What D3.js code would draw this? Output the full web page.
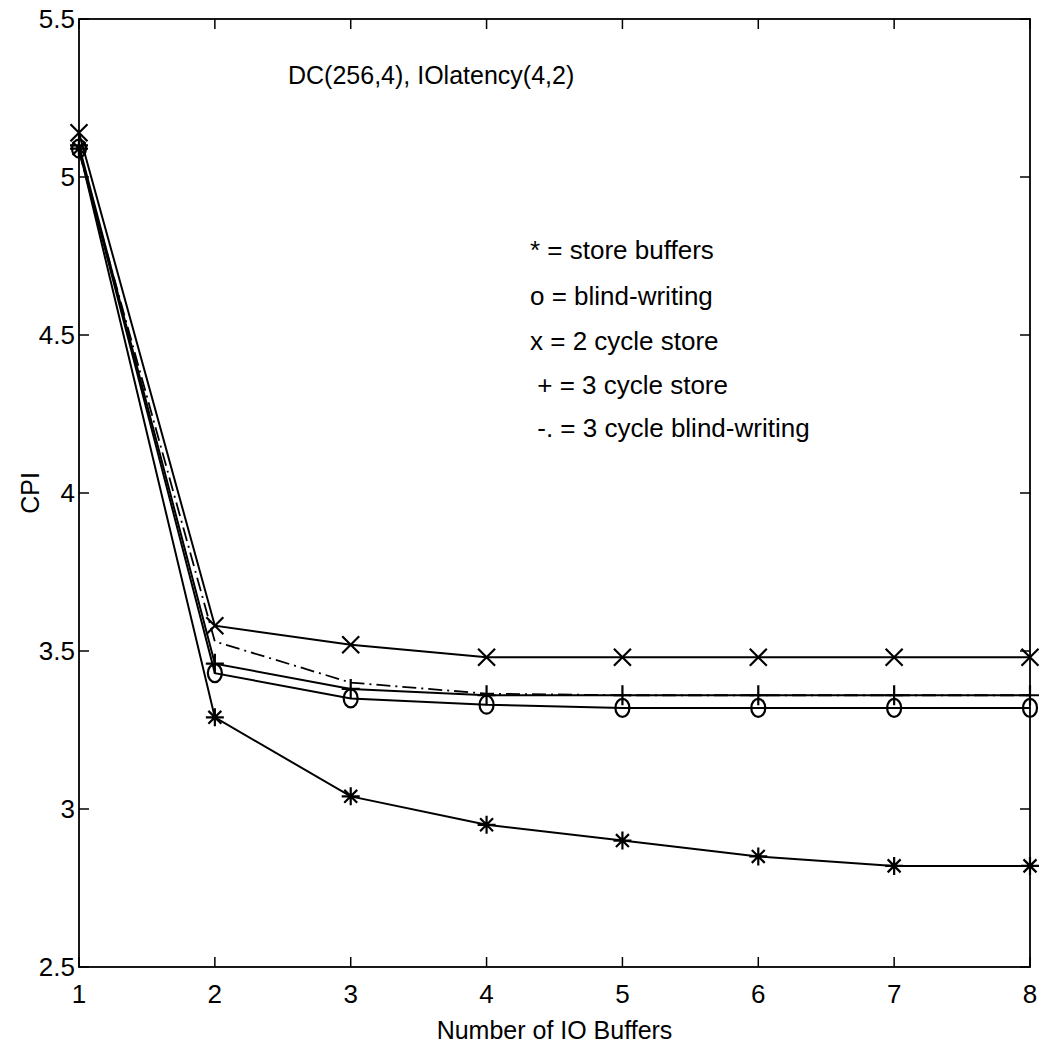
<!DOCTYPE html>
<html>
<head>
<meta charset="utf-8">
<script src="https://cdn.jsdelivr.net/npm/d3@7"></script>
<style>
  body { margin: 0; background: #fff; }
  text { font-family: "Liberation Sans", Arial, sans-serif; fill: #000; }
</style>
</head>
<body>
<div id="chart"></div>
<script>
// data
var buffers = [1, 2, 3, 4, 5, 6, 7, 8];
var storeBuffers = [5.09, 3.29, 3.04, 2.95, 2.90, 2.85, 2.82, 2.82];
var blindWriting = [5.09, 3.43, 3.35, 3.33, 3.32, 3.32, 3.32, 3.32];
var cycle2Store = [5.14, 3.58, 3.52, 3.48, 3.48, 3.48, 3.48, 3.48];
var cycle3Store = [5.10, 3.46, 3.38, 3.36, 3.36, 3.36, 3.36, 3.36];
var cycle3Blind = [5.08, 3.53, 3.40, 3.365, 3.36, 3.36, 3.36, 3.36];
var yTicks = [2.5, 3, 3.5, 4, 4.5, 5, 5.5];
var legendLines = ["* = store buffers", "o = blind-writing", "x = 2 cycle store", " + = 3 cycle store", " -. = 3 cycle blind-writing"];
var title = "DC(256,4), IOlatency(4,2)";

var W = 1048, H = 1051;
var plotL = 79, plotR = 1030, plotT = 19, plotB = 967;

var svg = d3.select("#chart").append("svg").attr("width", W).attr("height", H);

var x = d3.scaleLinear().domain([1, 8]).range([plotL, plotR]);
var y = d3.scaleLinear().domain([2.5, 5.5]).range([plotB, plotT]);

// box
svg.append("rect").attr("x", plotL).attr("y", plotT).attr("width", plotR - plotL).attr("height", plotB - plotT)
  .attr("fill", "none").attr("stroke", "#000").attr("stroke-width", 1.8);

// ticks (inside, all four sides)
var tl = 10;
svg.selectAll(".xtb").data(buffers).enter().append("line")
  .attr("x1", function(d){return x(d);}).attr("x2", function(d){return x(d);})
  .attr("y1", plotB).attr("y2", plotB - tl).attr("stroke", "#000").attr("stroke-width", 1.5);
svg.selectAll(".xtt").data(buffers).enter().append("line")
  .attr("x1", function(d){return x(d);}).attr("x2", function(d){return x(d);})
  .attr("y1", plotT).attr("y2", plotT + tl).attr("stroke", "#000").attr("stroke-width", 1.5);
svg.selectAll(".ytl").data(yTicks).enter().append("line")
  .attr("x1", plotL).attr("x2", plotL + tl)
  .attr("y1", function(d){return y(d);}).attr("y2", function(d){return y(d);}).attr("stroke", "#000").attr("stroke-width", 1.5);
svg.selectAll(".ytr").data(yTicks).enter().append("line")
  .attr("x1", plotR).attr("x2", plotR - tl)
  .attr("y1", function(d){return y(d);}).attr("y2", function(d){return y(d);}).attr("stroke", "#000").attr("stroke-width", 1.5);

// tick labels
svg.selectAll(".xl").data(buffers).enter().append("text")
  .attr("x", function(d){return x(d);}).attr("y", plotB + 27).attr("font-size", 26)
  .attr("text-anchor", "middle").attr("dy", ".35em").text(function(d){return d;});
svg.selectAll(".yl").data(yTicks).enter().append("text")
  .attr("x", plotL - 4).attr("y", function(d){return y(d);}).attr("font-size", 26)
  .attr("text-anchor", "end").attr("dy", ".35em").text(function(d){return d;});

// axis titles
svg.append("text").attr("x", (plotL + plotR) / 2).attr("y", 1030).attr("font-size", 25)
  .attr("text-anchor", "middle").attr("dy", ".35em").text("Number of IO Buffers");
svg.append("text").attr("transform", "translate(30," + y(4) + ") rotate(-90)").attr("font-size", 25)
  .attr("text-anchor", "middle").attr("dy", ".35em").text("CPI");

// lines
var line = d3.line().x(function(d, i){return x(buffers[i]);}).y(function(d){return y(d);});
[storeBuffers, blindWriting, cycle2Store, cycle3Store].forEach(function(s){
  svg.append("path").datum(s).attr("d", line).attr("fill", "none").attr("stroke", "#000").attr("stroke-width", 2);
});
svg.append("path").datum(cycle3Blind).attr("d", line).attr("fill", "none").attr("stroke", "#000")
  .attr("stroke-width", 1.8).attr("stroke-dasharray", "14,5,2,5");

// markers
var ms = 9;
function addStar(s) {
  svg.selectAll(null).data(s).enter().append("path")
    .attr("transform", function(d, i){return "translate(" + x(buffers[i]) + "," + y(d) + ")";})
    .attr("d", "M-" + ms + ",0H" + ms + "M0,-" + ms + "V" + ms +
      "M-" + ms*0.72 + ",-" + ms*0.72 + "L" + ms*0.72 + "," + ms*0.72 +
      "M-" + ms*0.72 + "," + ms*0.72 + "L" + ms*0.72 + ",-" + ms*0.72)
    .attr("stroke", "#000").attr("stroke-width", 2.2).attr("fill", "none");
}
function addCross(s) {
  svg.selectAll(null).data(s).enter().append("path")
    .attr("transform", function(d, i){return "translate(" + x(buffers[i]) + "," + y(d) + ")";})
    .attr("d", "M-8.5,-8.5L8.5,8.5M-8.5,8.5L8.5,-8.5").attr("stroke", "#000").attr("stroke-width", 2.2).attr("fill", "none");
}
function addPlus(s) {
  svg.selectAll(null).data(s).enter().append("path")
    .attr("transform", function(d, i){return "translate(" + x(buffers[i]) + "," + y(d) + ")";})
    .attr("d", "M-9,0H9M0,-10V10").attr("stroke", "#000").attr("stroke-width", 2.2).attr("fill", "none");
}
function addCircle(s) {
  svg.selectAll(null).data(s).enter().append("ellipse")
    .attr("cx", function(d, i){return x(buffers[i]);}).attr("cy", function(d){return y(d);})
    .attr("rx", 7).attr("ry", 9).attr("stroke", "#000").attr("stroke-width", 2.2).attr("fill", "none");
}
addStar(storeBuffers);
addCircle(blindWriting);
addCross(cycle2Store);
addPlus(cycle3Store);

// annotations
svg.append("text").attr("x", 288).attr("y", 75).attr("font-size", 25).attr("dy", ".35em").text(title);
var legY = [250, 296, 341, 385, 428];
svg.selectAll(".leg").data(legendLines).enter().append("text")
  .attr("x", 530).attr("y", function(d, i){return legY[i];}).attr("font-size", 26).attr("dy", ".35em")
  .attr("xml:space", "preserve").style("white-space", "pre").text(function(d){return d;});
</script>
</body>
</html>
